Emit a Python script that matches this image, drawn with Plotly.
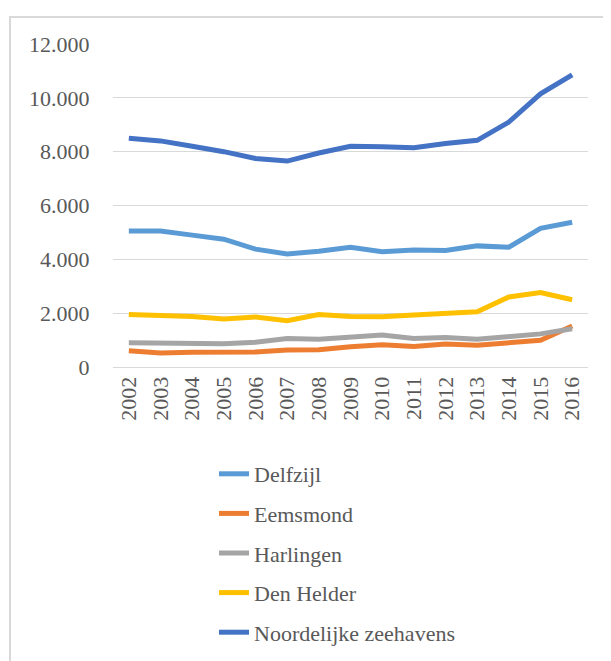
import plotly.graph_objects as go

years = [str(y) for y in range(2002, 2017)]
delfzijl = [5050, 5050, 4900, 4750, 4380, 4200, 4300, 4450, 4280, 4350, 4330, 4500, 4450, 5150, 5380]
eemsmond = [600, 520, 550, 570, 560, 630, 640, 750, 830, 760, 850, 810, 890, 990, 1520]
harlingen = [900, 900, 870, 860, 920, 1060, 1030, 1120, 1190, 1060, 1100, 1030, 1120, 1230, 1420]
den_helder = [1950, 1930, 1880, 1780, 1860, 1720, 1950, 1880, 1870, 1930, 2000, 2050, 2600, 2770, 2500]
noordelijk = [8500, 8400, 8200, 8000, 7750, 7650, 7950, 8200, 8180, 8150, 8300, 8420, 9100, 10150, 10850]

y_tickvals = [0, 2000, 4000, 6000, 8000, 10000, 12000]
y_ticktext = ["0", "2.000", "4.000", "6.000", "8.000", "10.000", "12.000"]

series = [
    ("Delfzijl", delfzijl, "#5B9BD5"),
    ("Eemsmond", eemsmond, "#ED7D31"),
    ("Harlingen", harlingen, "#A5A5A5"),
    ("Den Helder", den_helder, "#FFC000"),
    ("Noordelijke zeehavens", noordelijk, "#4472C4"),
]

font_family = "Liberation Serif"
text_color = "#595959"


def serif(s):
    return '<span style="font-family:Liberation Serif">' + s + '</span>'


fig = go.Figure()
for name, vals, col in series:
    fig.add_trace(go.Scatter(
        x=years, y=vals, name=serif(name), mode="lines",
        line=dict(color=col, width=5),
        legendgroup=name,
    ))

# page body has an 8px margin, so the figure is 8px smaller than the window
W, H = 603, 653
L, R, T, B = 105, 23, 36, 294
pw = W - L - R
ph = H - T - B


def px_to_paper_x(px):
    return (px - L) / pw


def py_to_paper_y(py):
    return (H - B - py) / ph


# chart-area frame (light gray), drawn as an empty bordered annotation box
fig.add_annotation(
    xref="paper", yref="paper",
    x=px_to_paper_x(1), y=py_to_paper_y(8),
    xanchor="left", yanchor="top",
    text="\u00a0", showarrow=False,
    width=700, height=700, borderpad=0,
    bordercolor="#D9D9D9", borderwidth=2,
    font=dict(family=font_family, size=22, color=text_color),
)

fig.update_layout(
    width=W, height=H,
    margin=dict(l=L, r=R, t=T, b=B, autoexpand=False),
    paper_bgcolor="white", plot_bgcolor="white",
    font=dict(family=font_family, color=text_color, size=22),
    legend=dict(
        x=px_to_paper_x(206), y=py_to_paper_y(445),
        xanchor="left", yanchor="top",
        tracegroupgap=8,
        font=dict(size=22, color=text_color, family=font_family),
    ),
    xaxis=dict(
        type="category", tickangle=-90, showgrid=False, automargin=False,
        range=[-0.5, len(years) - 0.5],
        tickvals=years, ticktext=[serif(y) for y in years],
        showline=True, linecolor="#D9D9D9", linewidth=1,
        ticks="", tickfont=dict(size=22, color=text_color, family=font_family),
    ),
    yaxis=dict(
        range=[0, 12000], tickvals=y_tickvals,
        ticktext=[serif(t) for t in y_ticktext],
        showgrid=True, gridcolor="#D9D9D9", gridwidth=1, automargin=False,
        zeroline=False, showline=False,
        ticks="outside", ticklen=18, tickcolor="rgba(0,0,0,0)",
        tickfont=dict(size=22, color=text_color, family=font_family),
    ),
)

fig.write_html("out.html")
